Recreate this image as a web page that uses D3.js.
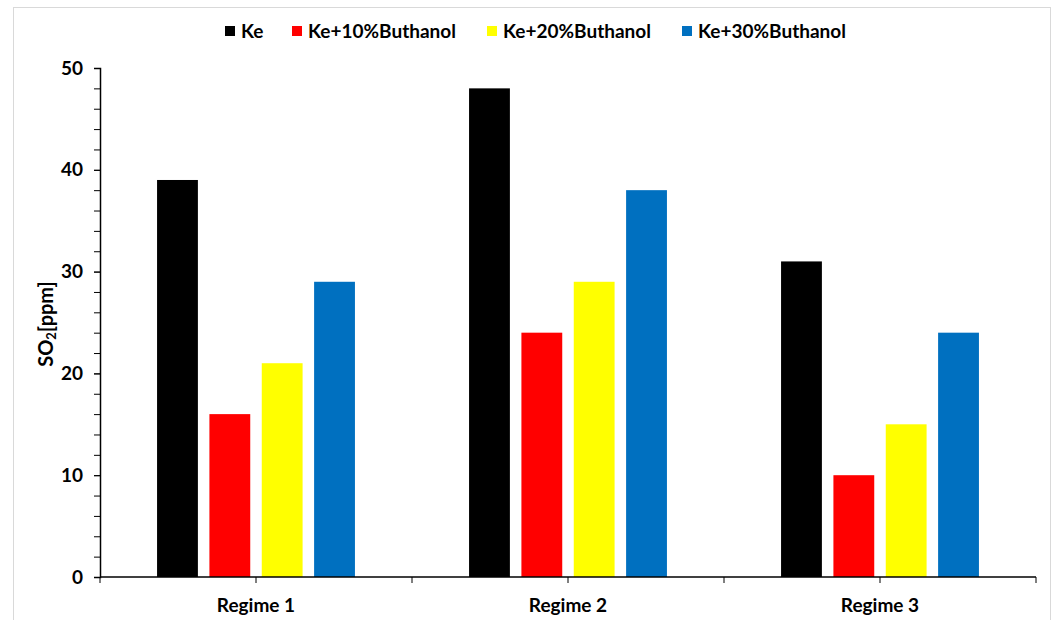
<!DOCTYPE html>
<html>
<head>
<meta charset="utf-8">
<script src="https://cdn.jsdelivr.net/npm/d3@7"></script>
<style>
  body { margin: 0; background: #fff; }
  svg { display: block; font-family: Lato, "Open Sans", sans-serif; font-weight: bold; }
</style>
</head>
<body>
<div id="chart"></div>
<script>
// chart data
const regimes = ['Regime 1', 'Regime 2', 'Regime 3'];
const seriesNames = ['Ke', 'Ke+10%Buthanol', 'Ke+20%Buthanol', 'Ke+30%Buthanol'];
const seriesColors = ['#000000', '#ff0000', '#ffff00', '#0070c0'];
const keValues = [39, 48, 31];
const ke10Values = [16, 24, 10];
const ke20Values = [21, 29, 15];
const ke30Values = [29, 38, 24];
const yTicks = [0, 10, 20, 30, 40, 50];

const allSeries = [keValues, ke10Values, ke20Values, ke30Values];

const W = 1054, H = 620;
const margin = {top: 68, right: 18, bottom: 43, left: 100};
const width = W - margin.left - margin.right;
const height = H - margin.top - margin.bottom;

const svg = d3.select('#chart').append('svg')
    .attr('width', W)
    .attr('height', H);

// light frame round the chart
svg.append('rect')
    .attr('x', 13.5).attr('y', 7.5)
    .attr('width', 1037).attr('height', 640)
    .attr('fill', 'none')
    .attr('stroke', '#d9d9d9');

const g = svg.append('g')
    .attr('transform', `translate(${margin.left},${margin.top})`);

const x0 = d3.scaleBand().domain(regimes).range([0, width]).padding(0);
const x1 = d3.scaleBand().domain(seriesNames).range([0, x0.bandwidth()])
    .paddingInner(0.22).paddingOuter(1.09);
const y = d3.scaleLinear().domain([0, 50]).range([height, 0]);

// bars
const groups = g.selectAll('.regime')
    .data(regimes)
    .enter().append('g')
    .attr('class', 'regime')
    .attr('transform', d => `translate(${x0(d)},0)`);

groups.selectAll('rect')
    .data((d, i) => seriesNames.map((s, j) => ({s, j, v: allSeries[j][i]})))
    .enter().append('rect')
    .attr('x', d => x1(d.s))
    .attr('y', d => y(d.v))
    .attr('width', x1.bandwidth())
    .attr('height', d => y(0) - y(d.v))
    .attr('fill', d => seriesColors[d.j]);

// y axis: minor ticks every 2, labelled every 10
g.append('g')
    .call(d3.axisLeft(y).tickValues(d3.range(0, 51, 2)).tickSize(6).tickFormat(''))
    .call(a => a.select('.domain').remove())
    .selectAll('line').attr('stroke', '#000').attr('stroke-width', 1);

const yAxis = g.append('g')
    .call(d3.axisLeft(y).tickValues(yTicks).tickSize(6).tickPadding(11));
yAxis.select('.domain').attr('stroke', '#000').attr('stroke-width', 1.5);
yAxis.selectAll('line').attr('stroke', '#000');
yAxis.selectAll('text')
    .attr('font-family', 'Lato, sans-serif')
    .attr('font-weight', 'bold')
    .attr('font-size', 19)
    .attr('fill', '#000');

// x axis: ticks at group edges and centres
const xTickPos = d3.range(0, regimes.length * 2 + 1).map(k => k * x0.bandwidth() / 2);
const xAxis = g.append('g')
    .attr('transform', `translate(0,${height})`);
xAxis.append('line')
    .attr('x1', 0).attr('x2', width)
    .attr('stroke', '#000').attr('stroke-width', 1.5);
xAxis.selectAll('.xt')
    .data(xTickPos)
    .enter().append('line')
    .attr('x1', d => d).attr('x2', d => d)
    .attr('y1', 0).attr('y2', 6)
    .attr('stroke', '#000');
xAxis.selectAll('.xl')
    .data(regimes)
    .enter().append('text')
    .attr('x', d => x0(d) + x0.bandwidth() / 2)
    .attr('y', 35)
    .attr('text-anchor', 'middle')
    .attr('font-size', 19)
    .text(d => d);

// y title
const yTitle = svg.append('text')
    .attr('transform', 'translate(53,324) rotate(-90)')
    .attr('text-anchor', 'middle')
    .attr('font-size', 20);
yTitle.append('tspan').text('SO');
yTitle.append('tspan').attr('font-size', 13).attr('dy', 3).text('2');
yTitle.append('tspan').attr('dy', -3).text('[ppm]');

// legend
const legendX = [225, 292, 487, 682];
const legend = svg.selectAll('.legend')
    .data(seriesNames)
    .enter().append('g')
    .attr('transform', (d, i) => `translate(${legendX[i]},26)`);
legend.append('rect')
    .attr('width', 10).attr('height', 10)
    .attr('fill', (d, i) => seriesColors[i]);
legend.append('text')
    .attr('x', 16).attr('y', 12)
    .attr('font-size', 19)
    .text(d => d);
</script>
</body>
</html>
